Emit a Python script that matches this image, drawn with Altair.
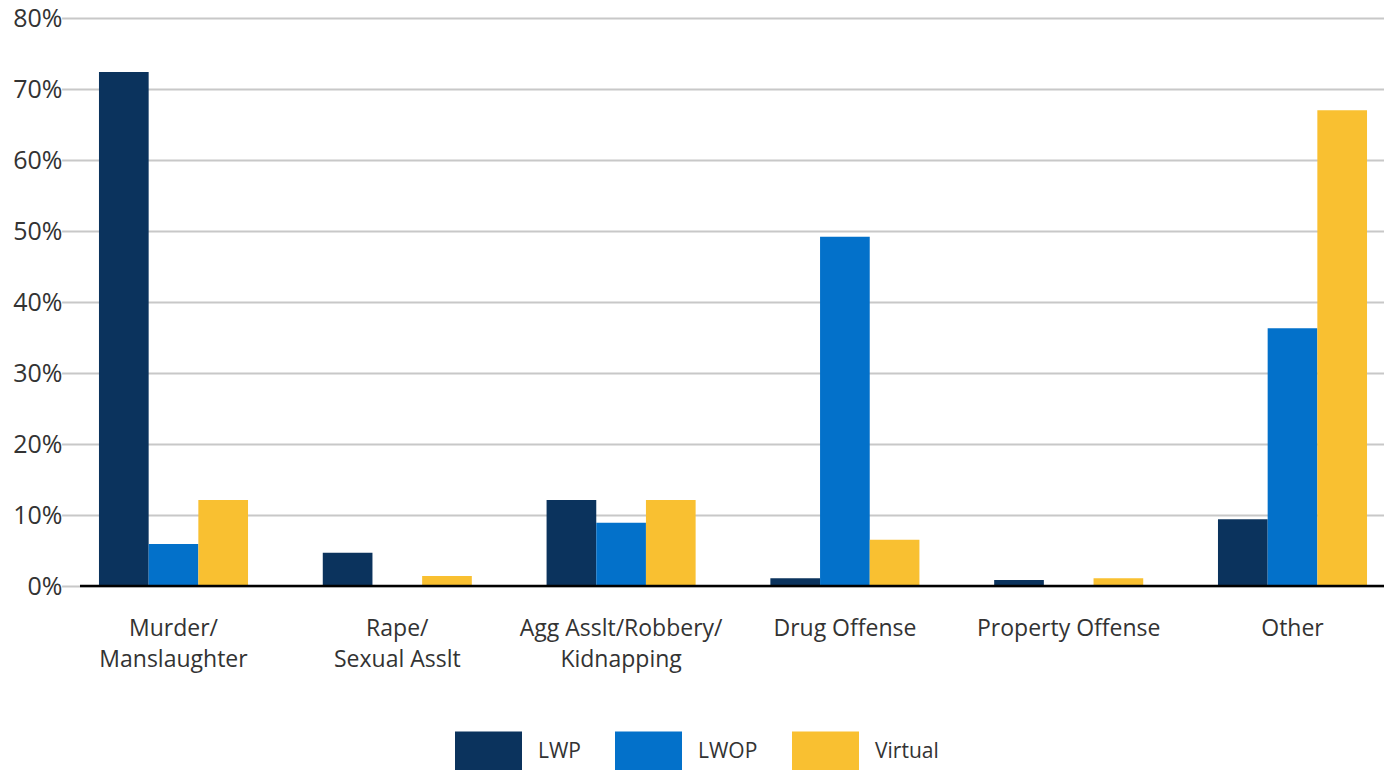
import altair as alt
import pandas as pd

categories = ["Murder/|Manslaughter", "Rape/|Sexual Asslt", "Agg Asslt/Robbery/|Kidnapping",
              "Drug Offense", "Property Offense", "Other"]
series = ["LWP", "LWOP", "Virtual"]
lwp = [0.724, 0.047, 0.121, 0.011, 0.0085, 0.094]
lwop = [0.059, 0.0, 0.089, 0.492, 0.0, 0.363]
virtual = [0.121, 0.014, 0.121, 0.065, 0.011, 0.670]
colors = ["#0b335d", "#0371ca", "#f9c031"]

rows = []
for i, c in enumerate(categories):
    for s, vals in zip(series, [lwp, lwop, virtual]):
        rows.append({"category": c, "series": s, "value": vals[i]})
df = pd.DataFrame(rows)

FONT = "Open Sans"
TXT = "#333333"

yscale = alt.Scale(domain=[0, 0.8], nice=False)

bars = alt.Chart(df).mark_bar().encode(
    x=alt.X("category:N", sort=categories, title=None,
            scale=alt.Scale(domain=categories, range=[-21.4, 1321.4],
                            paddingInner=0.334, paddingOuter=0.167),
            axis=alt.Axis(labelAngle=0, labelExpr="split(datum.label, '|')",
                          labelFont=FONT, labelFontSize=23, labelColor=TXT,
                          labelPadding=31, labelLineHeight=31, labelBaseline="top",
                          ticks=False, domain=False, grid=False, labelLimit=400)),
    xOffset=alt.XOffset("series:N", sort=series,
                        scale=alt.Scale(paddingInner=0, paddingOuter=0)),
    y=alt.Y("value:Q", title=None, scale=yscale,
            axis=alt.Axis(values=[0, 0.1, 0.2, 0.3, 0.4, 0.5, 0.6, 0.7, 0.8],
                          format=".0%", labelFont=FONT, labelFontSize=25,
                          labelColor=TXT, labelPadding=21, ticks=False,
                          domain=False, gridColor="#c8c8c8", gridWidth=2)),
    color=alt.Color("series:N", sort=series,
                    scale=alt.Scale(domain=series, range=colors),
                    legend=alt.Legend(title=None, orient="none", direction="horizontal",
                                      legendX=372, legendY=700, columns=3,
                                      symbolType="M-1,-0.6H1V0.6H-1Z",
                                      symbolSize=4489, symbolStrokeWidth=0,
                                      labelFont=FONT, labelFontSize=21, labelColor=TXT,
                                      labelOffset=16, columnPadding=34, padding=0)),
)

baseline = alt.Chart(pd.DataFrame({"v": [0]})).mark_rule(color="#000000", strokeWidth=2.5).encode(
    y=alt.Y("v:Q", scale=yscale, title=None),
    x=alt.value(-3),
    x2=alt.value(1301),
)

chart = alt.layer(bars, baseline).properties(
    width=1301, height=568,
    padding={"left": 83, "top": 18, "right": 0, "bottom": 184},
    autosize=alt.AutoSizeParams(type="none"),
    background="white",
).configure_view(strokeWidth=0, stroke="transparent")

chart.save("out.html", embed_options={"renderer": "svg", "actions": False})
